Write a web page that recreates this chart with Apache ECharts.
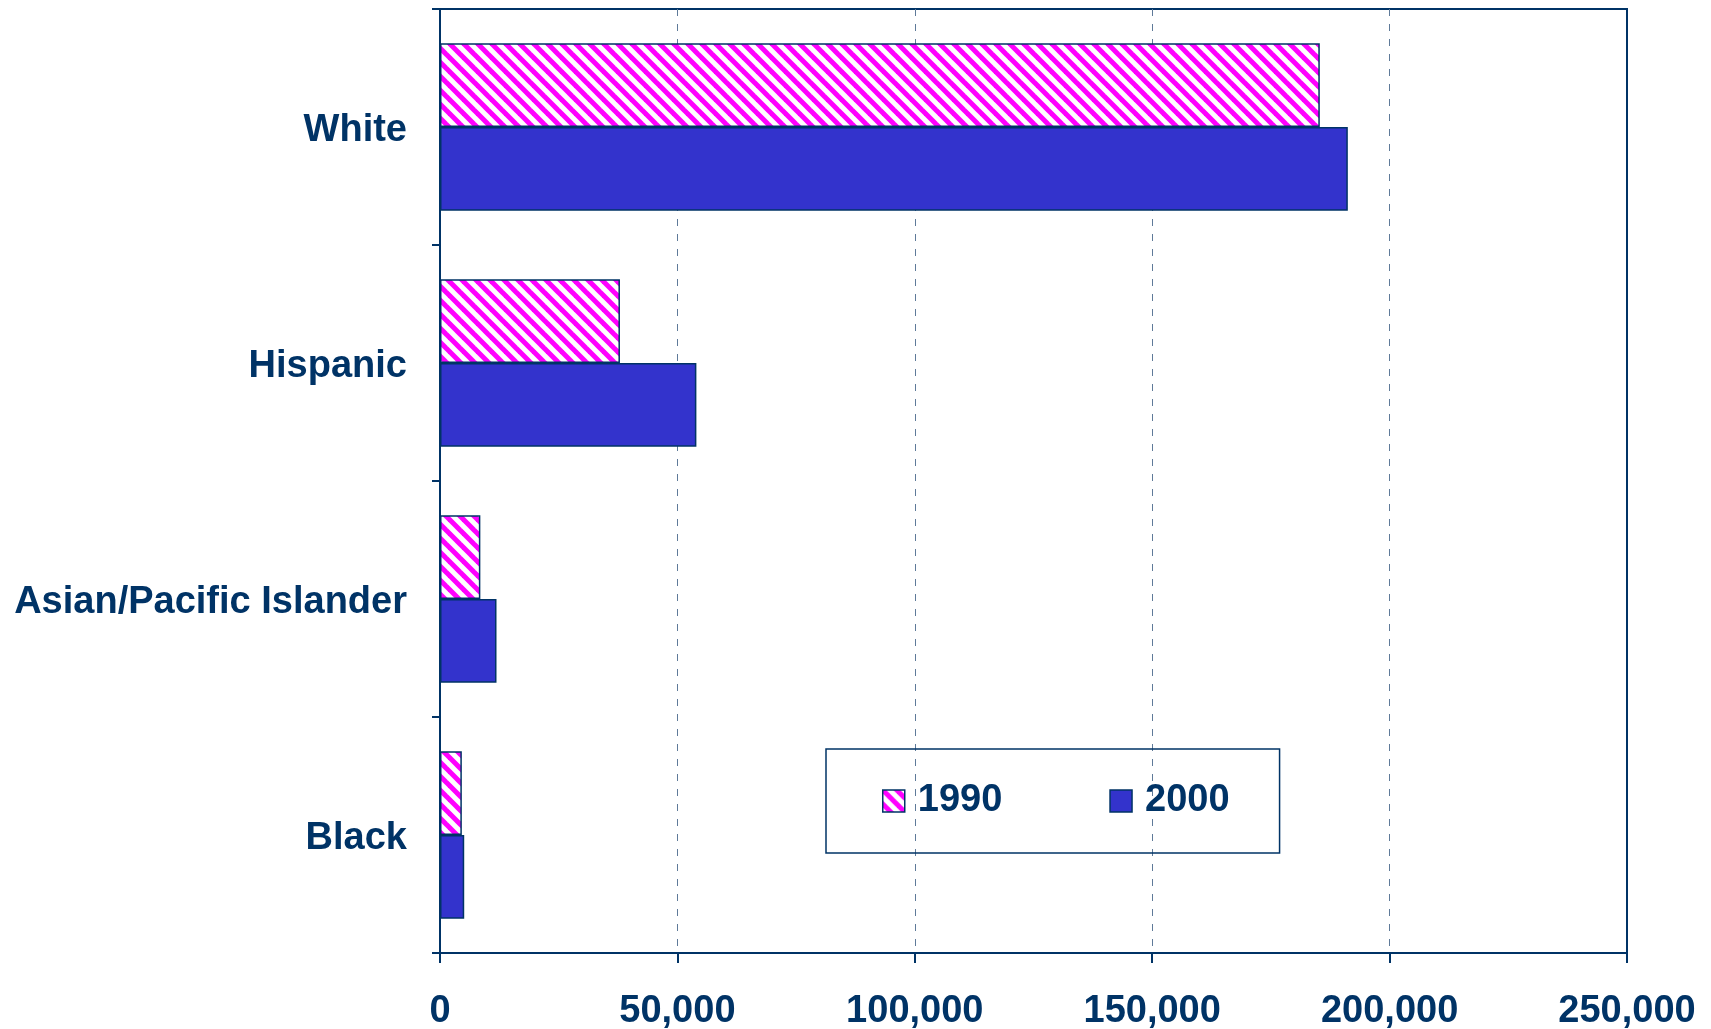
<!DOCTYPE html>
<html>
<head>
<meta charset="utf-8">
<style>
  html, body { margin: 0; padding: 0; background: #ffffff; }
  #chart { width: 1711px; height: 1029px; }
</style>
<script src="https://cdn.jsdelivr.net/npm/echarts@6/dist/echarts.min.js"></script>
</head>
<body>
<div id="chart"></div>
<script>
// ---- Data ----
const categories = ['White', 'Hispanic', 'Asian/Pacific Islander', 'Black'];
const seriesNames = ['1990', '2000'];
const values1990 = [185300, 37900, 8500, 4600];
const values2000 = [191200, 54000, 11900, 5100];
const xTicks = [0, 50000, 100000, 150000, 200000, 250000];

// ---- Styling ----
const NAVY = '#003366';
const BLUE = '#3333CC';
const FONT = '"Liberation Sans", Arial, sans-serif';

function makeStripePattern() {
  const s = 14;
  const c = document.createElement('canvas');
  c.width = s; c.height = s;
  const ctx = c.getContext('2d');
  ctx.fillStyle = '#ffffff';
  ctx.fillRect(0, 0, s, s);
  ctx.strokeStyle = '#FF00FF';
  ctx.lineWidth = 5;
  for (let k = -1; k <= 1; k++) {
    ctx.beginPath();
    ctx.moveTo(k * s - 2, -2);
    ctx.lineTo(k * s + s + 2, s + 2);
    ctx.stroke();
  }
  return c;
}
const pattern = { image: makeStripePattern(), repeat: 'repeat' };

const chart = echarts.init(document.getElementById('chart'), null, { renderer: 'canvas' });
chart.setOption({
  animation: false,
  backgroundColor: '#ffffff',
  grid: {
    left: 440, right: 84, top: 9, bottom: 76,
    containLabel: false,
    outerBoundsMode: 'none',
    show: true, borderColor: NAVY, borderWidth: 2, backgroundColor: 'transparent'
  },
  legend: {
    left: 826, top: 749,
    orient: 'horizontal',
    data: seriesNames,
    icon: 'rect',
    itemWidth: 22, itemHeight: 22,
    itemGap: 107,
    padding: [33, 50, 33, 56],
    borderColor: NAVY, borderWidth: 1.5,
    itemStyle: { borderColor: NAVY, borderWidth: 1.5 },
    textStyle: { fontFamily: FONT, fontWeight: 'bold', fontSize: 38, color: NAVY, padding: [4, 0, 0, 8] }
  },
  xAxis: {
    type: 'value',
    min: xTicks[0], max: xTicks[xTicks.length - 1], interval: 50000,
    axisLine: { show: true, lineStyle: { color: NAVY, width: 2 } },
    axisTick: { show: true, length: 10, lineStyle: { color: NAVY, width: 2 } },
    axisLabel: {
      margin: 40,
      fontFamily: FONT, fontWeight: 'bold', fontSize: 38, color: NAVY,
      formatter: v => v.toLocaleString('en-US')
    },
    splitLine: {
      show: true, showMinLine: false, showMaxLine: false,
      lineStyle: { color: '#5f7a99', width: 1, type: [7, 8] }
    }
  },
  yAxis: {
    type: 'category',
    inverse: true,
    data: categories,
    axisLine: { show: true, lineStyle: { color: NAVY, width: 2 } },
    axisTick: { show: true, length: 8, lineStyle: { color: NAVY, width: 2 } },
    axisLabel: {
      margin: 33,
      formatter: v => '{a|' + v + '}',
      rich: {
        a: { padding: [7, 0, 0, 0], fontFamily: FONT, fontWeight: 'bold', fontSize: 38, color: NAVY }
      },
      fontFamily: FONT, fontWeight: 'bold', fontSize: 38, color: NAVY
    }
  },
  series: [
    {
      name: seriesNames[0], type: 'bar', data: values1990,
      barGap: '0%', barCategoryGap: '29%',
      itemStyle: { color: pattern, borderColor: NAVY, borderWidth: 1.5 }
    },
    {
      name: seriesNames[1], type: 'bar', data: values2000,
      barGap: '0%', barCategoryGap: '29%',
      itemStyle: { color: BLUE, borderColor: NAVY, borderWidth: 1.5 }
    }
  ]
});
</script>
</body>
</html>
